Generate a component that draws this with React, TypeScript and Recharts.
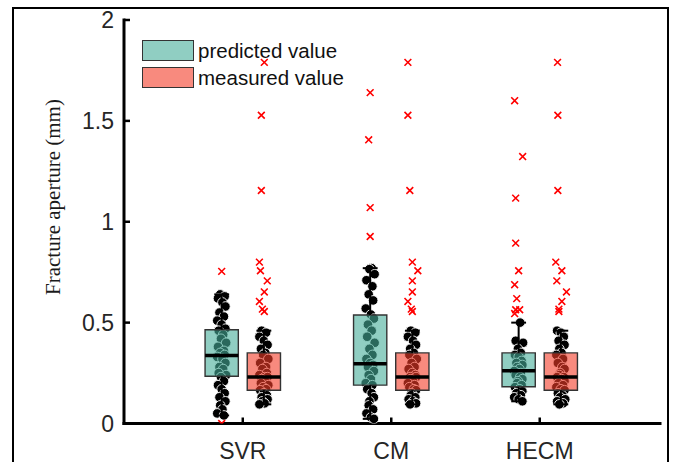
import React from 'react';
import {
  ComposedChart,
  XAxis,
  YAxis,
  Scatter,
  ReferenceArea,
  ReferenceLine,
  Legend,
} from 'recharts';

// ---------------- data ----------------
const categories = ['SVR', 'CM', 'HECM'];
const seriesNames = ['predicted value', 'measured value'];
const yTicks = [0, 0.5, 1, 1.5, 2];

// box statistics: [lower whisker, Q1, median, Q3, upper whisker]
const predictedBox = [
  [0.04, 0.234, 0.337, 0.465, 0.64],
  [0.023, 0.19, 0.296, 0.538, 0.77],
  [0.11, 0.182, 0.262, 0.35, 0.5],
];
const measuredBox = [
  [0.095, 0.165, 0.231, 0.35, 0.46],
  [0.095, 0.165, 0.231, 0.35, 0.46],
  [0.095, 0.165, 0.231, 0.35, 0.46],
];

// individual samples (non-outliers)
const svrPredicted = [
  0.64, 0.63, 0.62, 0.6, 0.58, 0.55, 0.53, 0.51, 0.49, 0.47, 0.46, 0.44, 0.42,
  0.4, 0.38, 0.36, 0.35, 0.34, 0.33, 0.32, 0.3, 0.28, 0.27, 0.25, 0.24, 0.23,
  0.21, 0.19, 0.17, 0.15, 0.13, 0.11, 0.09, 0.07, 0.05, 0.04,
];
const cmPredicted = [
  0.77, 0.765, 0.74, 0.71, 0.68, 0.64, 0.61, 0.57, 0.54, 0.52, 0.49, 0.46, 0.43,
  0.4, 0.37, 0.34, 0.32, 0.3, 0.29, 0.28, 0.26, 0.24, 0.22, 0.2, 0.19, 0.17,
  0.15, 0.13, 0.11, 0.09, 0.07, 0.05, 0.03, 0.023,
];
const hecmPredicted = [
  0.5, 0.41, 0.4, 0.37, 0.35, 0.34, 0.33, 0.31, 0.3, 0.29, 0.28, 0.27, 0.26,
  0.25, 0.24, 0.23, 0.22, 0.21, 0.2, 0.19, 0.18, 0.17, 0.16, 0.15, 0.14, 0.13,
  0.12, 0.11,
];
const measuredValues = [
  0.46, 0.45, 0.43, 0.41, 0.39, 0.37, 0.35, 0.34, 0.32, 0.3, 0.28, 0.27, 0.25,
  0.24, 0.23, 0.23, 0.22, 0.21, 0.2, 0.19, 0.18, 0.17, 0.165, 0.15, 0.14, 0.13,
  0.12, 0.11, 0.1, 0.095,
];

// outliers
const svrPredictedOutliers = [0.754, 0.0];
const cmPredictedOutliers = [1.64, 1.406, 1.07, 0.927];
const hecmPredictedOutliers = [1.6, 1.323, 1.117, 0.894, 0.757, 0.688, 0.619, 0.564, 0.564, 0.545];
const measuredOutliers = [1.79, 1.528, 1.155, 0.8, 0.757, 0.707, 0.652, 0.605, 0.567, 0.555];

// horizontal jitter of samples (x units)
const dotJitter = [
  -0.01, 0.02, -0.025, 0.005, 0.025, -0.015, 0.015, -0.03, 0.0, 0.025, -0.02,
  0.01, -0.005, 0.03, -0.025, 0.015, -0.01, 0.02, -0.03, 0.005, 0.025, -0.015,
  0.01, -0.02, 0.03, -0.005, 0.015, -0.025, 0.0, 0.02, -0.015, 0.025, -0.01,
  0.005, -0.03, 0.015, -0.02, 0.01, 0.025, -0.005,
];
const predictedOutlierJitter = [
  [0.0, 0.0],
  [0.0, -0.01, 0.0, 0.0],
  [-0.027, 0.027, -0.02, -0.02, 0.0, -0.027, -0.013, -0.02, 0.007, -0.027],
];
const measuredOutlierJitter = [
  [0.003, -0.017, -0.017, -0.03, -0.023, 0.023, 0.003, -0.03, -0.01, 0.003],
  [-0.03, -0.03, -0.017, 0.0, 0.037, 0.0, 0.0, -0.03, -0.007, 0.0],
  [-0.022, -0.02, -0.02, -0.034, 0.007, -0.027, 0.038, 0.007, -0.013, -0.013],
];

// ---------------- geometry / style ----------------
const GROUP_OFFSET = 0.142;
const BOX_HALF = 0.112;
const CAP_HALF = 0.05;
const TEAL = '#46AD99';
const SALMON = '#F33C28';
const BOX_OPACITY = 0.6;
const SANS = '"Liberation Sans", Arial, sans-serif';

const predictedSamples = [svrPredicted, cmPredicted, hecmPredicted];
const predictedOutliers = [svrPredictedOutliers, cmPredictedOutliers, hecmPredictedOutliers];

const dotData: { x: number; y: number }[] = [];
categories.forEach((_, i) => {
  predictedSamples[i].forEach((v, k) => {
    dotData.push({ x: i + 1 - GROUP_OFFSET + dotJitter[(k + i * 11) % dotJitter.length], y: v });
  });
  measuredValues.forEach((v, k) => {
    dotData.push({ x: i + 1 + GROUP_OFFSET + dotJitter[(k + i * 11 + 5) % dotJitter.length], y: v });
  });
});

const outlierData: { x: number; y: number }[] = [];
categories.forEach((_, i) => {
  predictedOutliers[i].forEach((v, k) => {
    outlierData.push({ x: i + 1 - GROUP_OFFSET + predictedOutlierJitter[i][k], y: v });
  });
  measuredOutliers.forEach((v, k) => {
    outlierData.push({ x: i + 1 + GROUP_OFFSET + measuredOutlierJitter[i][k], y: v });
  });
});

const boxes = categories.flatMap((_, i) => [
  { c: i + 1 - GROUP_OFFSET, s: predictedBox[i], fill: TEAL, key: `p${i}` },
  { c: i + 1 + GROUP_OFFSET, s: measuredBox[i], fill: SALMON, key: `m${i}` },
]);

const DotShape = (p: any) => (
  <circle cx={p.cx} cy={p.cy} r={4.8} fill="#000" stroke="#fff" strokeWidth={0.9} />
);
const CrossShape = (p: any) => {
  const d = 3.4;
  return (
    <path
      d={`M${p.cx - d},${p.cy - d}L${p.cx + d},${p.cy + d}M${p.cx - d},${p.cy + d}L${p.cx + d},${p.cy - d}`}
      stroke="#ff0000"
      strokeWidth={1.6}
      fill="none"
    />
  );
};

const XTick = (p: any) => (
  <text x={p.x} y={p.y} textAnchor="middle" fontSize={23} fontFamily={SANS} fill="#262626">
    {categories[Math.round(p.payload.value) - 1]}
  </text>
);
const YTick = (p: any) => (
  <text x={p.x} y={p.y} dy="0.36em" textAnchor="end" fontSize={23} fontFamily={SANS} fill="#262626">
    {String(p.payload.value)}
  </text>
);

const YLabel = () => (
  <text
    x={53}
    y={197}
    transform="rotate(-90, 53, 197)"
    textAnchor="middle"
    dominantBaseline="central"
    fontSize={21}
    fontFamily='"Liberation Serif", "Times New Roman", serif'
    fill="#1a1a1a"
  >
    Fracture aperture (mm)
  </text>
);

const LegendBox = () => (
  <div style={{ fontFamily: SANS, fontSize: 20.5, color: '#111' }}>
    {seriesNames.map((n, i) => (
      <div key={n} style={{ display: 'flex', alignItems: 'center', height: 21, marginBottom: 6 }}>
        <div
          style={{
            width: 52,
            height: 21,
            boxSizing: 'border-box',
            border: '1.5px solid #333',
            background: i === 0 ? TEAL : SALMON,
            position: 'relative',
          }}
        >
          <div style={{ position: 'absolute', inset: 0, background: '#fff', opacity: 1 - BOX_OPACITY }} />
        </div>
        <span style={{ marginLeft: 4, lineHeight: '21px' }}>{n}</span>
      </div>
    ))}
  </div>
);

export default function App() {
  return (
    <div style={{ position: 'absolute', left: 0, top: 0, width: 676, height: 462, background: '#fff', overflow: 'hidden' }}>
      <ComposedChart width={676} height={462} margin={{ top: 20, right: 16, bottom: 0, left: 0 }}>
        <XAxis
          type="number"
          dataKey="x"
          domain={[0.2, 3.81]}
          ticks={[1, 2, 3]}
          allowDataOverflow
          height={38.5}
          tickSize={-6}
          tickMargin={41}
          axisLine={{ stroke: '#000', strokeWidth: 3, strokeLinecap: 'square' }}
          tickLine={{ stroke: '#000', strokeWidth: 2.5 }}
          tick={<XTick />}
        />
        <YAxis
          type="number"
          dataKey="y"
          domain={[0, 2]}
          ticks={yTicks}
          allowDataOverflow
          width={124}
          tickSize={-6}
          tickMargin={16}
          axisLine={{ stroke: '#000', strokeWidth: 3, strokeLinecap: 'square' }}
          tickLine={{ stroke: '#000', strokeWidth: 2.5 }}
          tick={<YTick />}
          label={<YLabel />}
        />
        <Scatter
          name="samples"
          data={dotData}
          shape={<DotShape />}
          isAnimationActive={false}
          zIndex={610}
          legendType="none"
        />
        {boxes.map((b) => (
          <ReferenceArea
            key={`a${b.key}`}
            x1={b.c - BOX_HALF}
            x2={b.c + BOX_HALF}
            y1={b.s[1]}
            y2={b.s[3]}
            fill={b.fill}
            fillOpacity={BOX_OPACITY}
            stroke="#333"
            strokeWidth={1.4}
            strokeOpacity={1}
            ifOverflow="visible"
            zIndex={620}
          />
        ))}
        {boxes.map((b) => (
          <ReferenceLine
            key={`wu${b.key}`}
            segment={[{ x: b.c, y: b.s[3] }, { x: b.c, y: b.s[4] }]}
            stroke="#000"
            strokeWidth={2}
            ifOverflow="visible"
            zIndex={630}
          />
        ))}
        {boxes.map((b) => (
          <ReferenceLine
            key={`wl${b.key}`}
            segment={[{ x: b.c, y: b.s[1] }, { x: b.c, y: b.s[0] }]}
            stroke="#000"
            strokeWidth={2}
            ifOverflow="visible"
            zIndex={630}
          />
        ))}
        {boxes.map((b) => (
          <ReferenceLine
            key={`cu${b.key}`}
            segment={[{ x: b.c - CAP_HALF, y: b.s[4] }, { x: b.c + CAP_HALF, y: b.s[4] }]}
            stroke="#000"
            strokeWidth={2}
            ifOverflow="visible"
            zIndex={630}
          />
        ))}
        {boxes.map((b) => (
          <ReferenceLine
            key={`cl${b.key}`}
            segment={[{ x: b.c - CAP_HALF, y: b.s[0] }, { x: b.c + CAP_HALF, y: b.s[0] }]}
            stroke="#000"
            strokeWidth={2}
            ifOverflow="visible"
            zIndex={630}
          />
        ))}
        {boxes.map((b) => (
          <ReferenceLine
            key={`md${b.key}`}
            segment={[{ x: b.c - BOX_HALF, y: b.s[2] }, { x: b.c + BOX_HALF, y: b.s[2] }]}
            stroke="#000"
            strokeWidth={3.5}
            ifOverflow="visible"
            zIndex={640}
          />
        ))}
        <Scatter
          name="outliers"
          data={outlierData}
          shape={<CrossShape />}
          isAnimationActive={false}
          zIndex={650}
          legendType="none"
        />
        <Legend
          layout="vertical"
          align="center"
          verticalAlign="middle"
          wrapperStyle={{ left: 142, top: 40, width: 260, height: 50, right: 'auto', bottom: 'auto' }}
          content={() => <LegendBox />}
        />
      </ComposedChart>
      <div
        style={{
          position: 'absolute',
          left: 12,
          top: 7,
          width: 657,
          height: 500,
          border: '2px solid #000',
          boxSizing: 'border-box',
          pointerEvents: 'none',
        }}
      />
    </div>
  );
}
